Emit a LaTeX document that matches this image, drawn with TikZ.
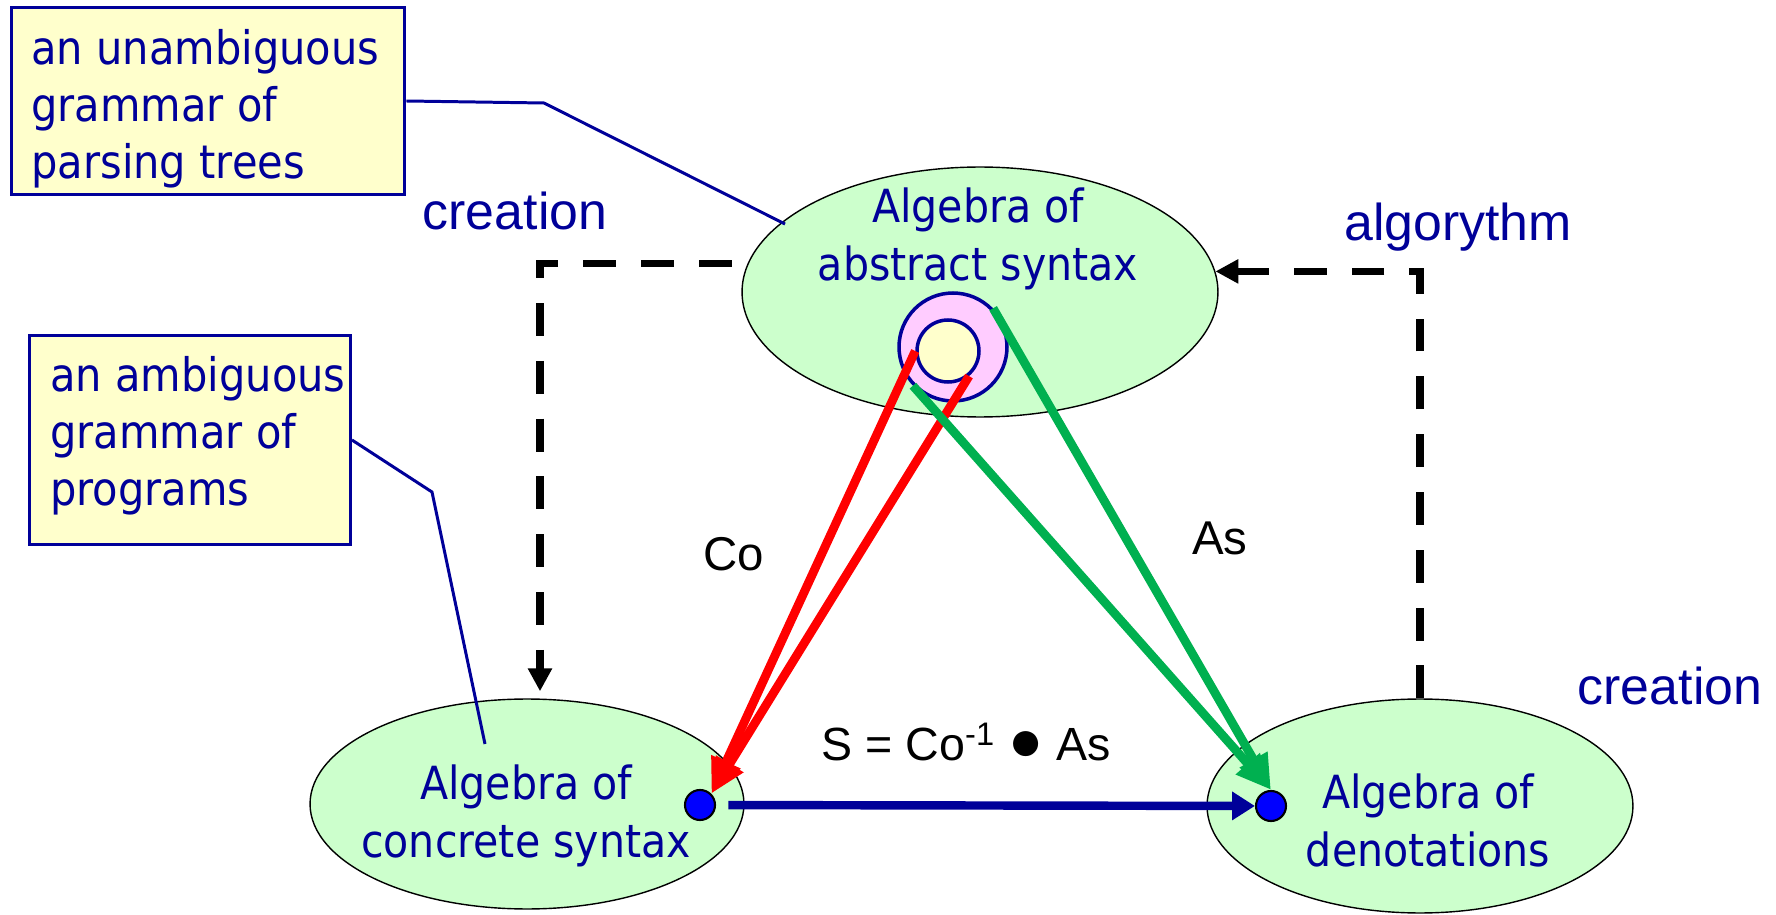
\documentclass[tikz,border=0pt]{standalone}
\usepackage{fontspec}
\setmainfont{Liberation Sans}
\newfontfamily\tahomafont[FakeStretch=0.9]{DejaVu Sans}
\usetikzlibrary{shapes.geometric,arrows.meta}
\definecolor{navy}{RGB}{0,0,153}
\definecolor{algfill}{RGB}{204,255,204}
\definecolor{notefill}{RGB}{255,255,204}
\definecolor{pinkfill}{RGB}{255,204,255}
\definecolor{dotblue}{RGB}{0,0,255}
\definecolor{asgreen}{RGB}{0,176,80}
\begin{document}
\begin{tikzpicture}[x=0.02cm, y=-0.02cm,
  alg/.style={ellipse, draw=black, line width=0.8pt, fill=algfill, inner sep=0pt},
  algtxt/.style={font=\tahomafont\fontsize{26}{33}\selectfont, text=navy, align=center},
  note/.style={draw=navy, line width=1.7pt, fill=notefill, inner sep=0pt},
  notetxt/.style={anchor=west, inner sep=0pt, align=left,
    font=\tahomafont\fontsize{26.3}{32.5}\selectfont, text=navy},
  callout/.style={draw=navy, line width=1.7pt},
  lbl/.style={font=\fontsize{29.5}{34}\selectfont, text=navy},
  sym/.style={font=\fontsize{27}{32}\selectfont, text=black},
  dot/.style={circle, draw=black, line width=1.2pt, fill=dotblue, minimum size=0.6cm, inner sep=0pt},
  create/.style={-{Triangle[length=13pt,width=13pt]}, line width=4.2pt, dash pattern=on 18.7pt off 14.2pt},
  coarr/.style={-{Triangle[length=20pt,width=17pt]}, line width=5pt, draw=red, red},
  asarr/.style={-{Triangle[length=20pt,width=17pt]}, line width=5pt, draw=asgreen, asgreen},
  sarr/.style={-{Triangle[length=13pt,width=15.5pt]}, line width=4.8pt, draw=navy, navy}
]
\useasboundingbox (0,0) rectangle (1776,915);

% the three algebras
\node[alg, minimum width=9.52cm, minimum height=5cm] (abs) at (980,292) {};
\node[alg, minimum width=8.68cm, minimum height=4.2cm] (conc) at (527,804) {};
\node[alg, minimum width=8.52cm, minimum height=4.28cm] (den) at (1420,806) {};
\node[algtxt] (abstxt) at (978,239) {Algebra of\\abstract syntax};
\node[algtxt] (conctxt) at (526,816) {Algebra of\\concrete syntax};
\node[algtxt] (dentxt) at (1428,820) {Algebra of\\denotations};

\node[circle, draw=navy, line width=2pt, fill=pinkfill, minimum size=2.16cm, inner sep=0pt] (outer) at (953,347) {};
\node[circle, draw=navy, line width=2pt, fill=notefill, minimum size=1.24cm, inner sep=0pt] (inner) at (948,351) {};
\node[dot] (cdot) at (700,805) {};
\node[dot] (ddot) at (1271,806) {};

% grammars
\node[note, minimum width=7.88cm, minimum height=3.76cm] (note1) at (208,101) {};
\node[note, minimum width=6.42cm, minimum height=4.18cm] (note2) at (190,440) {};
\node[notetxt] (note1txt) at (31,109) {an unambiguous\\grammar of\\parsing trees};
\node[notetxt] (note2txt) at (50,436) {an ambiguous\\grammar of\\programs};
\coordinate (bend1) at (544,103);
\coordinate (tip1) at (785,224);
\coordinate (bend2) at (432,492);
\coordinate (tip2) at (485,744);
\draw[callout] (note1.east) -- (bend1) -- (tip1);
\draw[callout] (note2.east) -- (bend2) -- (tip2);

% creation / algorythm
\draw[create, dash phase=23.8pt] (abs.173) -| ([xshift=0.26cm,yshift=0.14cm]conc.north);
\draw[create] (den.north) |- (abs.5);
\node[lbl] (crl) at (515,211) {creation};
\node[lbl] (algo) at (1458,227) {algorythm};
\node[lbl] (crr) at (1670,686) {creation};

% homomorphisms
\draw[coarr] (inner.west) -- (cdot.north east);
\draw[coarr] (inner.-50) -- (cdot.north east);
\draw[asarr] (outer.-136) -- (ddot.north);
\draw[asarr] (outer.44) -- (ddot.north);
\draw[sarr, shorten <=7pt] (cdot) -- (ddot);
\node[sym] (co) at (734,554) {Co};
\node[sym] (as) at (1220,538) {As};
\node[sym, font=\fontsize{26.5}{32}\selectfont] (sdef) at (966,742) {S = Co\textsuperscript{-1} \scalebox{1.25}{●} As};
\end{tikzpicture}
\end{document}
